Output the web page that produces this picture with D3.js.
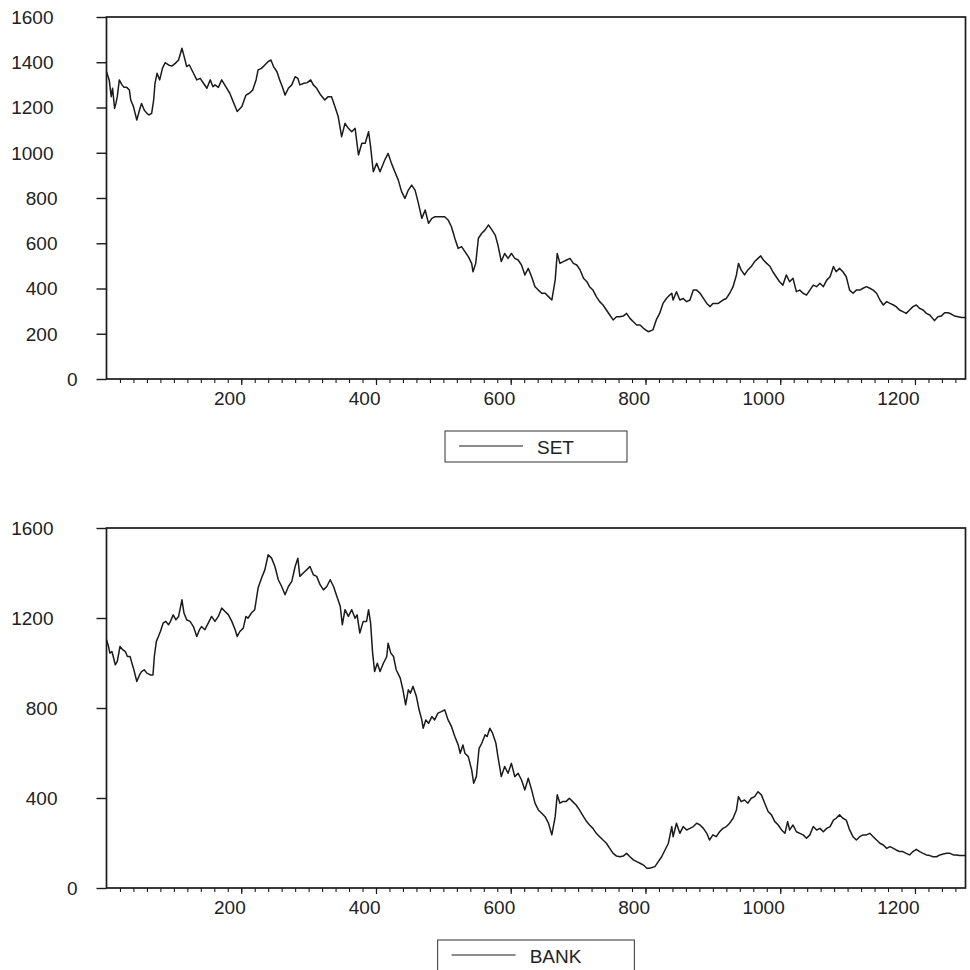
<!DOCTYPE html>
<html>
<head>
<meta charset="utf-8">
<script src="https://cdn.jsdelivr.net/npm/d3@7"></script>
<style>
  html, body { margin: 0; padding: 0; background: #ffffff; }
  svg { display: block; font-family: "Liberation Sans", Arial, sans-serif; }
</style>
</head>
<body>
<svg id="chart" width="970" height="970"></svg>
<script>
// ---------------- DATA ----------------
const xLabelTicks = [200, 400, 600, 800, 1000, 1200];
const xMinorTicks = d3.range(20, 1275, 20);
const setYTicks  = [0, 200, 400, 600, 800, 1000, 1200, 1400, 1600];
const bankYTicks = [0, 400, 800, 1200, 1600];

const setObs = [0,4,7,9,12,14,16,19,23,26,30,34,36,40,45,49,52,56,60,63,67,70,72,75,79,83,87,92,97,102,107,112,115,119,123,128,134,139,144,149,154,158,161,166,171,177,183,188,194,201,207,212,217,222,225,230,235,240,244,248,253,257,261,265,270,275,280,284,287,293,298,303,307,312,318,324,329,
334,339,344,349,354,359,364,369,374,379,384,389,392,396,401,406,413,418,423,428,433,438,443,448,453,458,463,468,473,478,483,487,495,502,507,512,517,522,527,532,537,542,544,548,552,557,562,567,572,577,581,586,591,596,601,606,611,616,621,626,631,636,641,646,651,656,661,666,669,673,678,683,688,693,698,703,708,713,717,722,727,732,737,742,747,752,757,762,767,772,777,782,787,792,797,
804,811,816,821,826,831,836,839,841,846,851,856,861,866,871,876,881,886,891,896,900,908,915,920,925,930,935,938,942,947,952,957,962,967,971,975,980,985,989,994,999,1004,1009,1014,1019,1024,1029,1034,1039,1044,1049,1054,1059,1064,1069,1074,1079,1083,1088,1093,1098,1103,1108,1113,1118,1123,1128,1133,1138,1143,1148,1153,1158,1163,1168,1172,1177,1182,1187,1192,1197,1202,1207,1212,1217,1222,1229,1234,1239,1244,1249,1254,1259,1264,1269,1275];
const setVal = [1358,1322,1248,1285,1196,1218,1248,1322,1300,1289,1289,1277,1233,1204,1145,1189,1218,1189,1174,1167,1174,1233,1307,1351,1322,1373,1398,1388,1383,1395,1410,1462,1428,1381,1388,1358,1322,1329,1307,1285,1322,1292,1300,1289,1322,1292,1263,1226,1182,1204,1255,1263,1277,1322,1366,1373,1388,1403,1410,1381,1358,1322,1292,1255,1285,1300,1336,1329,1300,1307,1310,1322,1300,1285,1255,1233,1248,
1248,1204,1159,1071,1130,1108,1093,1108,990,1042,1042,1093,1027,916,953,916,968,997,953,916,880,828,798,835,857,835,776,710,747,688,710,717,717,717,703,673,622,577,585,563,541,511,474,511,622,644,659,681,659,636,592,519,555,533,555,533,526,504,460,489,452,408,393,379,379,364,349,438,555,511,519,526,533,511,504,482,445,430,408,393,364,342,327,305,283,261,275,275,278,290,268,253,239,239,224,
209,217,261,290,334,356,371,379,349,386,349,356,342,349,393,393,379,356,334,320,334,334,349,356,379,408,460,511,482,460,482,497,519,533,544,526,511,497,474,452,430,415,460,430,445,386,393,379,371,393,415,408,423,408,437,452,497,474,489,474,452,393,379,393,393,401,408,401,393,379,349,327,342,334,327,320,305,298,290,305,320,327,312,305,290,283,258,275,278,293,293,287,278,275,272,272];

const bankObs = [0,3,5,8,10,13,16,20,24,28,31,35,37,40,45,49,52,56,60,65,69,71,74,77,80,84,88,92,95,99,103,107,112,115,119,124,129,134,138,141,146,151,156,161,166,171,176,181,186,191,194,198,203,207,210,215,220,225,230,235,240,245,250,255,260,265,270,275,280,284,287,292,297,302,307,312,317,322,327,
332,337,342,347,350,354,359,364,369,372,376,381,386,389,392,395,398,402,406,411,416,418,422,426,430,436,440,444,448,451,455,460,464,468,470,474,478,483,487,492,497,502,507,512,517,522,525,529,532,537,542,545,549,553,557,562,565,569,573,578,581,586,591,596,601,606,611,616,621,626,631,636,641,646,651,656,661,666,669,673,677,682,687,692,697,702,708,713,717,722,727,732,737,742,747,752,757,762,767,772,777,782,787,792,797,802,
806,814,819,824,829,834,839,841,846,851,856,861,866,871,876,881,886,891,895,900,905,910,915,920,925,930,935,938,942,947,952,957,962,967,972,977,982,987,992,997,1002,1007,1011,1014,1019,1024,1029,1034,1039,1044,1049,1054,1059,1064,1069,1074,1079,1083,1088,1093,1098,1103,1108,1113,1118,1123,1128,1133,1138,1143,1148,1153,1158,1163,1168,1172,1177,1182,1187,1192,1197,1202,1207,1212,1217,1222,1227,1232,1237,1242,1247,1252,1257,1262,1266,1275];
const bankVal = [1103,1073,1044,1051,1029,992,1007,1073,1059,1051,1029,1029,1007,977,918,947,962,970,955,947,947,1029,1096,1118,1140,1177,1185,1170,1185,1214,1192,1207,1281,1222,1192,1185,1162,1118,1148,1162,1148,1177,1207,1185,1207,1244,1229,1214,1185,1148,1118,1140,1155,1207,1199,1222,1237,1333,1377,1414,1481,1466,1429,1370,1340,1303,1340,1363,1429,1466,1385,1400,1414,1429,1392,1385,1348,1325,1340,
1370,1340,1296,1251,1170,1237,1207,1237,1199,1214,1133,1185,1185,1237,1177,1044,962,999,962,999,1029,1088,1044,1029,970,933,881,814,881,866,896,851,792,747,710,747,732,762,747,777,784,792,747,718,673,636,599,636,599,584,525,466,495,621,643,681,673,710,688,643,584,495,540,510,554,495,510,480,436,488,436,377,347,332,317,288,236,317,414,377,384,384,399,384,369,347,317,294,280,265,243,228,213,199,176,154,142,139,142,154,139,125,117,110,102,88,
88,95,117,139,169,199,273,228,288,243,273,258,265,273,288,280,265,243,213,236,228,250,265,273,288,310,347,406,384,391,377,399,406,428,414,377,340,325,295,280,258,243,295,258,280,250,243,236,221,236,273,258,265,250,265,273,302,310,325,310,302,258,228,213,228,236,236,243,228,213,199,191,176,184,176,169,162,162,154,147,162,172,162,154,147,144,139,139,147,151,154,154,147,147,144,144];

// ---------------- LAYOUT ----------------
const svg = d3.select("#chart");
const plotLeft = 106.5, plotRight = 965.5;
const ink = "#1b1b1b";
const fontSize = 19;

const x = d3.scaleLinear().domain([0, 1275]).range([plotLeft, plotRight]);

const panels = [
  { name: "SET",  obs: setObs,  val: setVal,  yTicks: setYTicks,  top: 17,  bottom: 379, legendTop: 431 },
  { name: "BANK", obs: bankObs, val: bankVal, yTicks: bankYTicks, top: 528, bottom: 888, legendTop: 940 }
];

function labelShift(d) {
  const n = String(d).length;
  if (n === 1) return 20;
  if (n >= 4) return -4;
  return 0;
}

panels.forEach(p => {
  const y = d3.scaleLinear().domain([0, 1600]).range([p.bottom, p.top]);
  const g = svg.append("g");

  // y axis ticks + labels
  const yAxis = g.append("g")
    .attr("transform", `translate(${plotLeft},0)`)
    .call(d3.axisLeft(y).tickValues(p.yTicks).tickSize(10).tickFormat(d3.format("d")));
  yAxis.select(".domain").remove();
  yAxis.selectAll("line").attr("stroke", ink).attr("stroke-width", 1.4);
  yAxis.selectAll("text")
    .attr("fill", "#222")
    .attr("font-size", fontSize)
    .attr("font-family", "Liberation Sans, Arial, sans-serif")
    .attr("text-anchor", "end")
    .attr("x", d => -49 + labelShift(d))
    .attr("dy", "0.33em");

  // x minor ticks
  const xMinor = g.append("g")
    .attr("transform", `translate(0,${p.bottom})`)
    .call(d3.axisBottom(x).tickValues(xMinorTicks).tickSize(4).tickFormat(""));
  xMinor.select(".domain").remove();
  xMinor.selectAll("line").attr("stroke", ink).attr("stroke-width", 1.1);

  // x labelled ticks
  const xAxis = g.append("g")
    .attr("transform", `translate(0,${p.bottom})`)
    .call(d3.axisBottom(x).tickValues(xLabelTicks).tickSize(6).tickFormat(d3.format("d")));
  xAxis.select(".domain").remove();
  xAxis.selectAll("line").attr("stroke", ink).attr("stroke-width", 1.2);
  xAxis.selectAll("text")
    .attr("fill", "#222")
    .attr("font-size", fontSize)
    .attr("font-family", "Liberation Sans, Arial, sans-serif")
    .attr("text-anchor", "end")
    .attr("x", 4)
    .attr("y", 12)
    .attr("dy", "0.72em");

  // series line
  const pts = p.obs.map((o, i) => [o, p.val[i]]);
  g.append("path")
    .datum(pts)
    .attr("fill", "none")
    .attr("stroke", ink)
    .attr("stroke-width", 1.5)
    .attr("stroke-linejoin", "round")
    .attr("d", d3.line().x(d => x(d[0])).y(d => y(d[1])));

  // frame
  g.append("rect")
    .attr("x", plotLeft).attr("y", p.top)
    .attr("width", plotRight - plotLeft).attr("height", p.bottom - p.top)
    .attr("fill", "none").attr("stroke", ink).attr("stroke-width", 1.7);

  // legend
  const lg = svg.append("g");
  const txt = lg.append("text")
    .text(p.name)
    .attr("font-size", fontSize)
    .attr("font-family", "Liberation Sans, Arial, sans-serif")
    .attr("fill", "#222");
  const tw = txt.node().getComputedTextLength();
  const bw = tw + 145;
  const cx = (plotLeft + plotRight) / 2;
  const bx = cx - bw / 2;
  const bh = 31;
  lg.insert("rect", "text")
    .attr("x", bx).attr("y", p.legendTop)
    .attr("width", bw).attr("height", bh)
    .attr("fill", "#fff").attr("stroke", "#444").attr("stroke-width", 1.1);
  lg.append("line")
    .attr("x1", bx + 14).attr("x2", bx + 78)
    .attr("y1", p.legendTop + 15).attr("y2", p.legendTop + 15)
    .attr("stroke", ink).attr("stroke-width", 1.2);
  txt.attr("x", bx + 92).attr("y", p.legendTop + 22.5);
});
</script>
</body>
</html>
